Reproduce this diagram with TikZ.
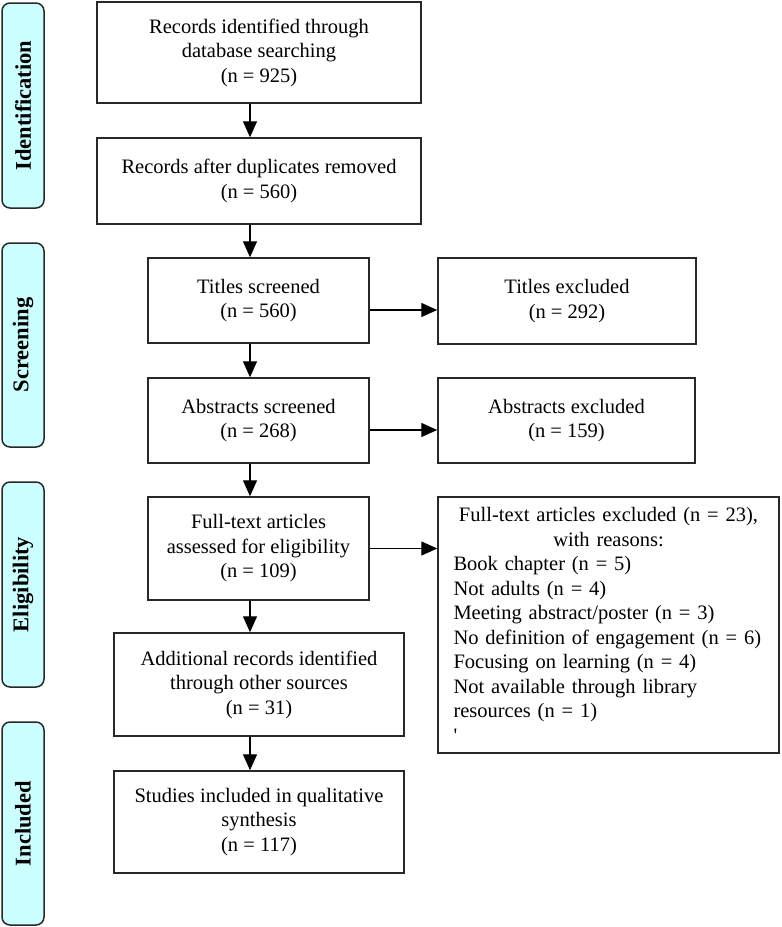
\documentclass[tikz,border=0pt]{standalone}
\usepackage{fontspec}
\setmainfont{Liberation Serif}
\usetikzlibrary{arrows.meta}
\definecolor{sidefill}{RGB}{204,255,255}
\definecolor{edge}{RGB}{40,40,40}
\begin{document}
\begin{tikzpicture}[x=1pt,y=-1pt,
  box/.style={draw=edge, line width=1.5pt, rectangle, align=center, inner sep=0pt,
    font=\fontsize{20.5}{24.5}\selectfont},
  side/.style={draw=edge, line width=1.5pt, rounded corners=8pt, fill=sidefill,
    minimum width=42pt, minimum height=205pt, inner sep=0pt},
  sidetext/.style={rotate=90, font=\fontsize{22.5}{26}\selectfont\bfseries},
  arr/.style={line width=1.4pt, draw=black, -{Triangle[length=16pt,width=14pt]}}]
\useasboundingbox (0,0) rectangle (782,927);
% phase labels
\node[side] (sid) at (23,105.5) {};
\node[sidetext] (tid) at (sid.center) {Identification};
\node[side, minimum height=204pt] (ssc) at (23,345) {};
\node[sidetext] (tsc) at (ssc.center) {Screening};
\node[side] (sel) at (23,584.5) {};
\node[sidetext] (tel) at (sel.center) {Eligibility};
\node[side, minimum height=203pt] (sin) at (23,823.5) {};
\node[sidetext] (tin) at (sin.center) {Included};
% main boxes
\node[box, minimum width=324pt, minimum height=101pt] (id1) at (259,52.5)
  {Records identified through\\database searching\\(n = 925)};
\node[box, minimum width=324pt, minimum height=86pt] (dup) at (259,181)
  {Records after duplicates removed\\(n = 560)};
\node[box, minimum width=221pt, minimum height=85pt] (ts) at (258.5,300.5)
  {Titles screened\\(n = 560)};
\node[box, minimum width=221pt, minimum height=85pt] (as) at (258.5,420.5)
  {Abstracts screened\\(n = 268)};
\node[box, minimum width=221pt, minimum height=103pt] (ft) at (258.5,548.5)
  {Full-text articles\\assessed for eligibility\\(n = 109)};
\node[box, minimum width=290pt, minimum height=103pt] (add) at (259,684.5)
  {Additional records identified\\through other sources\\(n = 31)};
\node[box, minimum width=290pt, minimum height=102pt] (inc) at (259,822)
  {Studies included in qualitative\\synthesis\\(n = 117)};
% exclusion boxes
\node[box, minimum width=258pt, minimum height=86pt] (te) at (567,301)
  {Titles excluded\\(n = 292)};
\node[box, minimum width=257pt, minimum height=85pt] (ae) at (566.5,420.5)
  {Abstracts excluded\\(n = 159)};
\node[box, minimum width=341pt, minimum height=256pt, text width=310pt, align=left] (fe) at (608.5,625)
  {{\centering Full-text articles excluded (n = 23),\\ with reasons:\par}
   Book chapter (n = 5)\\
   Not adults (n = 4)\\
   Meeting abstract/poster (n = 3)\\
   No definition of engagement (n = 6)\\
   Focusing on learning (n = 4)\\
   Not available through library\\
   resources (n = 1)\\
   \textquotesingle};
% connectors
\coordinate (spine) at (250,0);
\draw[arr] (spine |- id1.south) -- (spine |- dup.north);
\draw[arr] (spine |- dup.south) -- (spine |- ts.north);
\draw[arr] (spine |- ts.south) -- (spine |- as.north);
\draw[arr] (spine |- as.south) -- (spine |- ft.north);
\draw[arr] (spine |- ft.south) -- (spine |- add.north);
\draw[arr] (spine |- add.south) -- (spine |- inc.north);
\draw[arr] ([yshift=-9.5pt]ts.east) -- ([yshift=-9.5pt]ts.east -| te.west);
\draw[arr] ([yshift=-9.5pt]as.east) -- ([yshift=-9.5pt]as.east -| ae.west);
\draw[arr] (ft.east) -- (ft.east -| fe.west);
\end{tikzpicture}
\end{document}
